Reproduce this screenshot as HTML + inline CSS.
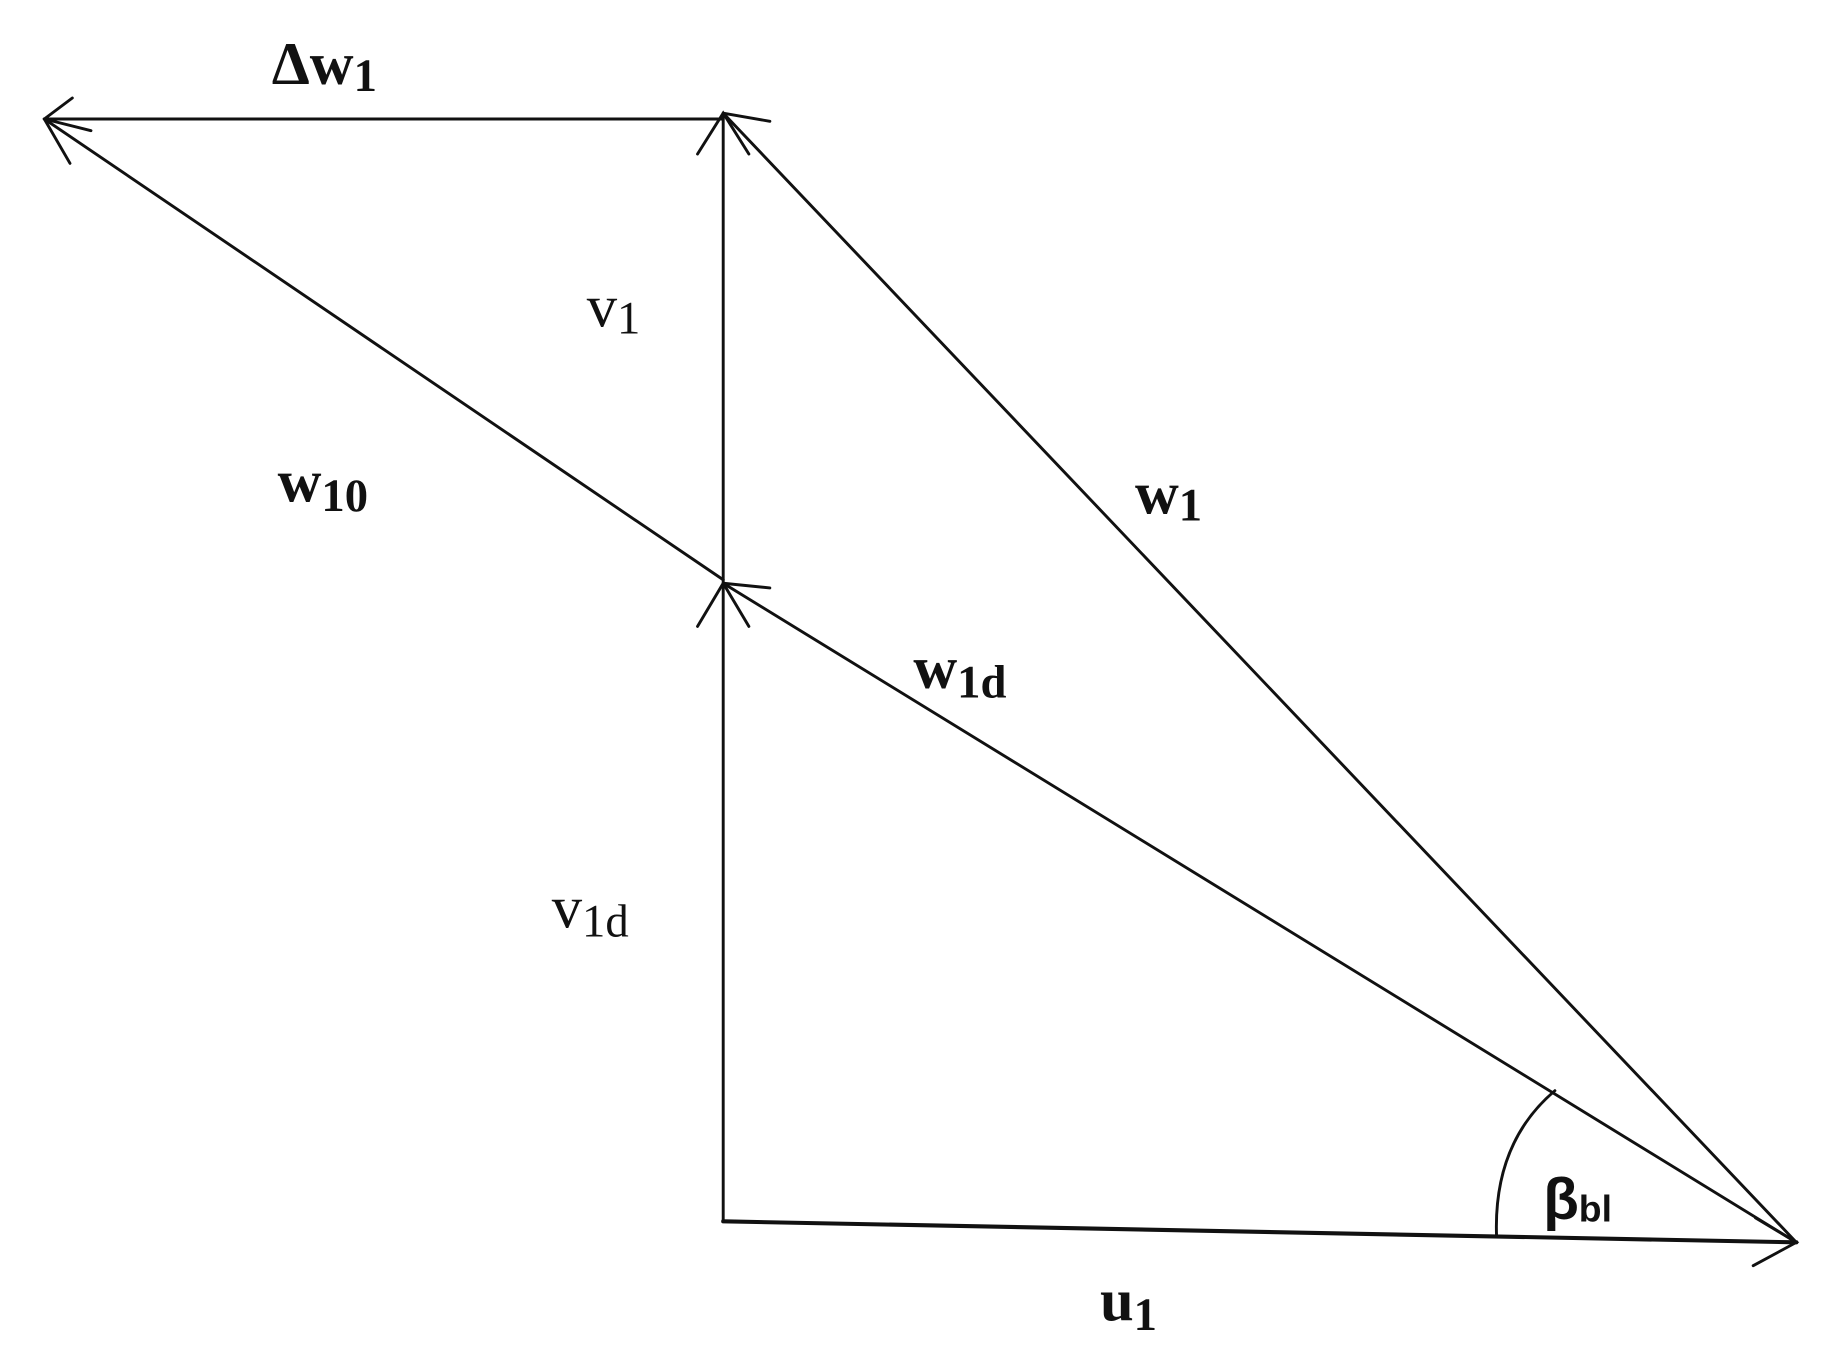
<!DOCTYPE html>
<html><head><style>html,body{margin:0;padding:0;background:#fff;}svg{display:block;}</style></head>
<body>
<svg width="1829" height="1366" viewBox="0 0 1568 1171" preserveAspectRatio="none" xmlns="http://www.w3.org/2000/svg">
<g stroke="#111" stroke-width="2.5" fill="none" stroke-linecap="round">
<line x1="620" y1="102" x2="38" y2="102"/>
<polyline points="62,84 38,102 60,140"/>
<line x1="620" y1="1047" x2="620" y2="97"/>
<polyline points="598,132 620,97 642,132"/>
<polyline points="598,537 620,500 642,537"/>
<line x1="1540" y1="1065" x2="620" y2="97"/>
<polyline points="620,97 660,104"/>
<line x1="620" y1="497" x2="38" y2="102"/>
<polyline points="38,102 78,112"/>
<line x1="1540" y1="1065" x2="620" y2="500"/>
<polyline points="620,500 660,504"/>
<line x1="620" y1="1047" x2="1540" y2="1065" stroke-width="3.5"/>
<polyline points="1505,1044 1540,1065 1503,1085"/>
<path d="M1283,1060 Q1280,980 1333,935"/>
</g>
<g font-family="Liberation Serif, serif" font-weight="bold" fill="#111">
<text x="233" y="72" font-size="52">Δw<tspan font-size="40" dy="6">1</tspan></text>
<text x="503" y="280" font-size="52" font-weight="normal">v<tspan font-size="40" dy="6">1</tspan></text>
<text x="238" y="430" font-size="52">w<tspan font-size="40" dy="8">10</tspan></text>
<text x="973" y="440" font-size="52">w<tspan font-size="40" dy="6">1</tspan></text>
<text x="783" y="590" font-size="52">w<tspan font-size="40" dy="8">1d</tspan></text>
<text x="473" y="795" font-size="52" font-weight="normal">v<tspan font-size="40" dy="8">1d</tspan></text>
<text x="1323" y="1045" font-size="50" font-family="Liberation Sans, sans-serif">β<tspan font-size="32" dy="2">bl</tspan></text>
<text x="943" y="1132" font-size="52">u<tspan font-size="40" dy="8">1</tspan></text>
</g>
</svg>
</body></html>
